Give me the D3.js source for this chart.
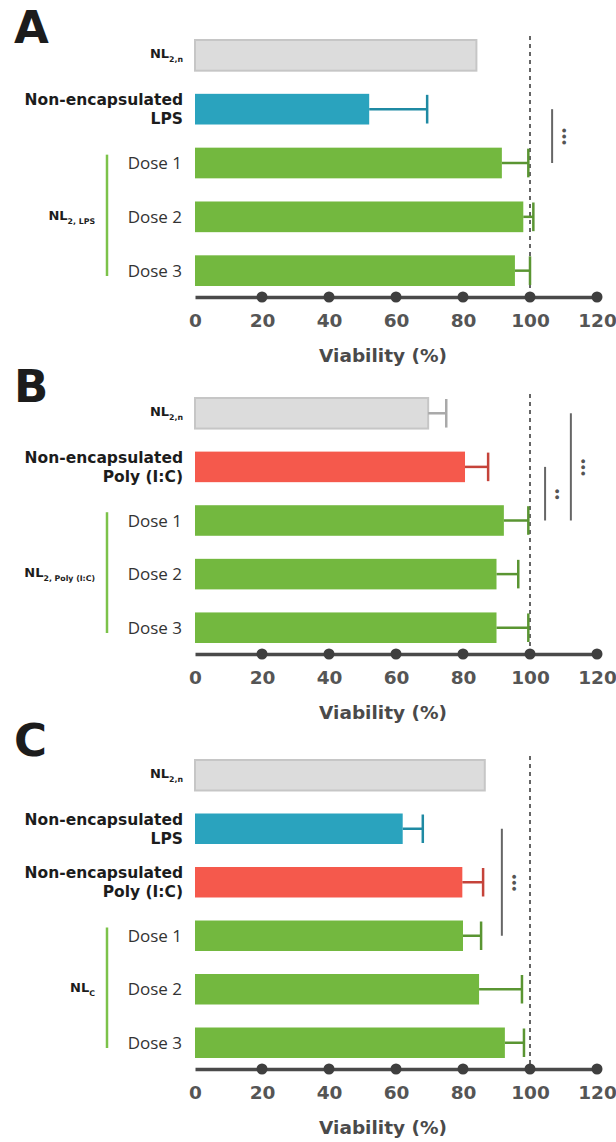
<!DOCTYPE html>
<html>
<head>
<meta charset="utf-8">
<script src="https://cdn.jsdelivr.net/npm/d3@7"></script>
<style>
  body { margin: 0; background: #fff; }
  svg { display: block; }
</style>
</head>
<body>
<div id="chart"></div>
<script>
// ---- data ----
const ticks = [0, 20, 40, 60, 80, 100, 120];

const catsA = ["NL_2,n", "Non-encapsulated|LPS", "Dose 1", "Dose 2", "Dose 3"];
const typesA = ["empty", "lps", "dose", "dose", "dose"];
const meansA = [84, 52, 91.6, 98, 95.5];
const errA = [null, 17.3, 7.9, 3, 4.5];

const catsB = ["NL_2,n", "Non-encapsulated|Poly (I:C)", "Dose 1", "Dose 2", "Dose 3"];
const typesB = ["empty", "poly", "dose", "dose", "dose"];
const meansB = [69.6, 80.6, 92.2, 90, 90];
const errB = [5.4, 6.9, 7.3, 6.5, 9.5];

const catsC = ["NL_2,n", "Non-encapsulated|LPS", "Non-encapsulated|Poly (I:C)", "Dose 1", "Dose 2", "Dose 3"];
const typesC = ["empty", "lps", "poly", "dose", "dose", "dose"];
const meansC = [86.5, 62, 79.8, 80, 84.8, 92.5];
const errC = [null, 6, 6.2, 5.4, 12.8, 5.7];

// significance brackets: [from category, to category, x value, stars]
const sigA = [["Non-encapsulated|LPS", "Dose 1", 106.6, "•••"]];
const sigB = [["Non-encapsulated|Poly (I:C)", "Dose 1", 104.5, "••"],
              ["NL_2,n", "Dose 1", 112.2, "•••"]];
const sigC = [["Non-encapsulated|LPS", "Dose 1", 91.6, "•••"]];

const width = 616, height = 1142;

const fill = d3.scaleOrdinal()
    .domain(["empty", "lps", "poly", "dose"])
    .range(["#dcdcdc", "#2aa3be", "#f5594c", "#73b83f"]);
const errColor = d3.scaleOrdinal()
    .domain(["empty", "lps", "poly", "dose"])
    .range(["#a9a9a9", "#1f8aa3", "#c5433a", "#5a9532"]);

const x = d3.scaleLinear().domain([0, 120]).range([195, 597]);

const svg = d3.select("#chart").append("svg")
    .attr("width", width)
    .attr("height", height);

const boldFont = "'DejaVu Sans', sans-serif";

function subLabel(sel, main, sub, size) {
    sel.append("tspan").text(main);
    sel.append("tspan")
        .attr("font-size", size * 0.6)
        .attr("dy", size * 0.3)
        .text(sub);
}

function drawPanel(p) {
    const g = svg.append("g");

    const y = d3.scaleBand()
        .domain(p.cats)
        .range(p.range)
        .paddingInner(0.43);
    const bw = y.bandwidth();
    const axisY = p.range[1] + 11;

    // panel letter
    g.append("text")
        .attr("x", 14).attr("y", p.letterY)
        .attr("font-family", boldFont)
        .attr("font-weight", 900)
        .attr("font-size", 45)
        .attr("fill", "#1c1c1c")
        .text(p.letter);

    // 100% reference line
    g.append("line")
        .attr("x1", x(100)).attr("x2", x(100))
        .attr("y1", p.range[0] - 4).attr("y2", axisY)
        .attr("stroke", "#666")
        .attr("stroke-width", 2)
        .attr("stroke-dasharray", "4,4");

    const rows = p.cats.map((c, i) => ({cat: c, type: p.types[i], mean: p.means[i], err: p.errs[i]}));

    // bars
    g.selectAll("rect.bar")
        .data(rows)
        .enter()
        .append("rect")
        .attr("class", "bar")
        .attr("x", x(0))
        .attr("y", d => y(d.cat))
        .attr("width", d => x(d.mean) - x(0))
        .attr("height", bw)
        .attr("fill", d => fill(d.type))
        .attr("stroke", d => d.type === "empty" ? "#c6c6c6" : "none")
        .attr("stroke-width", 2);

    // error bars
    const eb = g.selectAll("g.err")
        .data(rows.filter(d => d.err != null))
        .enter()
        .append("g")
        .attr("stroke", d => errColor(d.type))
        .attr("stroke-width", 2.5);
    eb.append("line")
        .attr("x1", d => x(d.mean)).attr("x2", d => x(d.mean + d.err))
        .attr("y1", d => y(d.cat) + bw / 2).attr("y2", d => y(d.cat) + bw / 2);
    eb.append("line")
        .attr("x1", d => x(d.mean + d.err)).attr("x2", d => x(d.mean + d.err))
        .attr("y1", d => y(d.cat) + 1).attr("y2", d => y(d.cat) + bw - 1);

    // category labels
    rows.forEach(d => {
        const cy = y(d.cat) + bw / 2;
        if (d.cat.startsWith("NL_")) {
            const t = g.append("text")
                .attr("x", 183).attr("y", cy + 3)
                .attr("text-anchor", "end")
                .attr("font-family", boldFont)
                .attr("font-weight", "bold")
                .attr("font-size", 13)
                .attr("fill", "#1c1c1c");
            subLabel(t, "NL", d.cat.slice(3), 13);
        } else if (d.cat.includes("|")) {
            const lines = d.cat.split("|");
            lines.forEach((ln, k) => {
                g.append("text")
                    .attr("x", 183).attr("y", cy - 4 + k * 19)
                    .attr("text-anchor", "end")
                    .attr("font-family", boldFont)
                    .attr("font-weight", "bold")
                    .attr("font-size", 15.5)
                    .attr("fill", "#1c1c1c")
                    .text(ln);
            });
        } else {
            g.append("text")
                .attr("x", 182).attr("y", cy + 6)
                .attr("text-anchor", "end")
                .attr("font-family", "'Open Sans', sans-serif")
                .attr("font-size", 17)
                .attr("fill", "#333")
                .text(d.cat);
        }
    });

    // group bracket for doses
    g.append("line")
        .attr("x1", 107).attr("x2", 107)
        .attr("y1", y("Dose 1") + 7)
        .attr("y2", y("Dose 3") + bw - 10)
        .attr("stroke", "#7cc24a")
        .attr("stroke-width", 2.5);
    const gl = g.append("text")
        .attr("x", 95).attr("y", y("Dose 2") + bw / 2 + 3)
        .attr("text-anchor", "end")
        .attr("font-family", boldFont)
        .attr("font-weight", "bold")
        .attr("font-size", 13)
        .attr("fill", "#1c1c1c");
    subLabel(gl, "NL", p.group, 13);

    // significance
    p.sig.forEach(s => {
        const y1 = y(s[0]) + bw / 2, y2 = y(s[1]) + bw / 2;
        g.append("line")
            .attr("x1", x(s[2])).attr("x2", x(s[2]))
            .attr("y1", y1).attr("y2", y2)
            .attr("stroke", "#666")
            .attr("stroke-width", 2);
        g.append("text")
            .attr("transform", `translate(${x(s[2]) + 8},${(y1 + y2) / 2}) rotate(90)`)
            .attr("text-anchor", "middle")
            .attr("font-family", boldFont)
            .attr("font-weight", "bold")
            .attr("font-size", 11)
            .attr("letter-spacing", -1)
            .attr("fill", "#555")
            .text(s[3]);
    });

    // x axis
    const ax = g.append("g")
        .attr("transform", `translate(0,${axisY})`)
        .call(d3.axisBottom(x).tickValues(ticks).tickSize(0).tickPadding(17));
    ax.select(".domain")
        .attr("stroke", "#4a4a4a")
        .attr("stroke-width", 3.5);
    ax.selectAll("text")
        .attr("font-family", boldFont)
        .attr("font-weight", "bold")
        .attr("font-size", 18.5)
        .attr("fill", "#555");
    g.selectAll("circle.tick-dot")
        .data(ticks.filter(t => t > 0))
        .enter()
        .append("circle")
        .attr("cx", d => x(d))
        .attr("cy", axisY)
        .attr("r", 5.5)
        .attr("fill", "#3f3f3f");

    g.append("text")
        .attr("x", 383).attr("y", axisY + 65)
        .attr("text-anchor", "middle")
        .attr("font-family", boldFont)
        .attr("font-weight", "bold")
        .attr("font-size", 18.5)
        .attr("fill", "#4a4a4a")
        .text("Viability (%)");
}

drawPanel({letter: "A", letterY: 43, cats: catsA, types: typesA, means: meansA, errs: errA,
    range: [40, 286], group: "2, LPS", sig: sigA});
drawPanel({letter: "B", letterY: 402, cats: catsB, types: typesB, means: meansB, errs: errB,
    range: [398, 643], group: "2, Poly (I:C)", sig: sigB});
drawPanel({letter: "C", letterY: 756, cats: catsC, types: typesC, means: meansC, errs: errC,
    range: [760, 1058], group: "C", sig: sigC});
</script>
</body>
</html>
